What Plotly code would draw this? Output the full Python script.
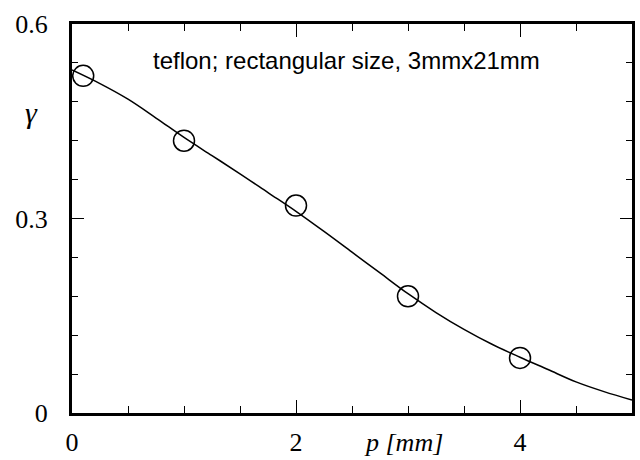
import plotly.graph_objects as go

# Measured points: gamma versus p
p_meas = [0.1, 1.0, 2.0, 3.0, 4.0]
gamma_meas = [0.52, 0.42, 0.32, 0.18, 0.085]

# Fitted curve
p_fit = [0.0, 0.25, 0.5, 0.75, 1.0, 1.25, 1.5, 1.75, 2.0, 2.25, 2.5,
         2.75, 3.0, 3.25, 3.5, 3.75, 4.0, 4.25, 4.5, 4.75, 5.0]
gamma_fit = [0.529, 0.508, 0.484, 0.455, 0.425, 0.397, 0.369, 0.340, 0.311,
             0.280, 0.248, 0.216, 0.184, 0.155, 0.129, 0.106, 0.086, 0.067,
             0.048, 0.033, 0.020]

x_tickvals = [0, 2, 4]
x_ticktext = ["0", "2", "4"]
y_tickvals = [0, 0.3, 0.6]
y_ticktext = ["0", "0.3", "0.6"]

serif = "Liberation Serif"
sans = "Liberation Sans"

fig = go.Figure()
fig.add_trace(go.Scatter(
    x=p_fit, y=gamma_fit, mode="lines",
    line=dict(color="black", width=1.5, shape="spline", smoothing=1.0),
    hoverinfo="skip", showlegend=False,
))
fig.add_trace(go.Scatter(
    x=p_meas, y=gamma_meas, mode="markers",
    marker=dict(symbol="circle-open", size=21, color="black",
                line=dict(width=1.5, color="black")),
    showlegend=False,
))

axis_common = dict(
    showgrid=False, zeroline=False, automargin=False,
    showline=True, linecolor="black", linewidth=3,
    mirror="allticks", ticks="inside", tickcolor="black", tickwidth=1,
    tickfont=dict(family=serif, size=26, color="black"),
)

fig.update_xaxes(
    range=[0, 5], tickvals=x_tickvals, ticktext=x_ticktext, ticklen=13,
    ticklabelstandoff=4,
    minor=dict(dtick=0.5, ticks="inside", ticklen=7, tickwidth=1,
               tickcolor="black", showgrid=False),
    **axis_common,
)
fig.update_yaxes(
    range=[0, 0.6], tickvals=y_tickvals, ticktext=y_ticktext, ticklen=12,
    ticklabelstandoff=16,
    minor=dict(dtick=0.06, ticks="inside", ticklen=6, tickwidth=1,
               tickcolor="black", showgrid=False),
    **axis_common,
)

fig.add_annotation(
    text="teflon; rectangular size, 3mmx21mm",
    xref="paper", yref="paper", x=0.1405, y=0.907,
    xanchor="left", yanchor="middle", showarrow=False,
    font=dict(family=sans, size=24, color="black"),
)
fig.add_annotation(
    text="<i>p [mm]</i>",
    xref="paper", yref="paper", x=0.592, y=-0.1195,
    xanchor="center", yanchor="bottom", showarrow=False,
    font=dict(family=serif, size=26, color="black"),
)
fig.add_annotation(
    text="<i>γ</i>",
    xref="paper", yref="paper", x=-0.072, y=0.773,
    xanchor="center", yanchor="middle", showarrow=False,
    font=dict(family=serif, size=30, color="black"),
)

fig.update_layout(
    width=640, height=460,
    margin=dict(l=72, r=8, t=24, b=47),
    paper_bgcolor="white", plot_bgcolor="white",
)

fig.write_html("out.html")
